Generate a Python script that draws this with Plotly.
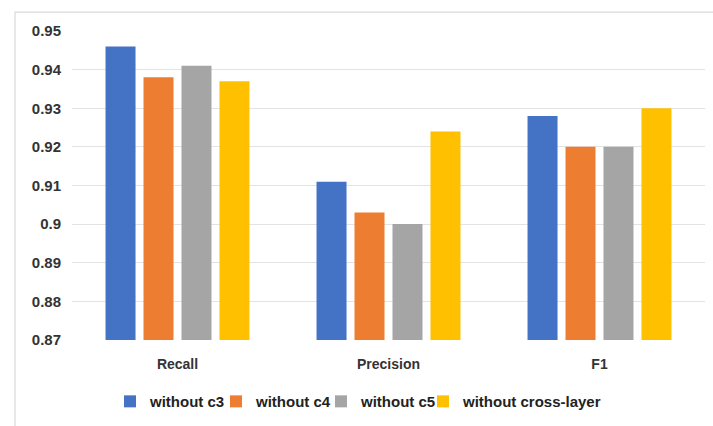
import plotly.graph_objects as go

categories = ["Recall", "Precision", "F1"]
series_names = ["without c3", "without c4", "without c5", "without cross-layer"]
without_c3 = [0.946, 0.911, 0.928]
without_c4 = [0.938, 0.903, 0.920]
without_c5 = [0.941, 0.900, 0.920]
without_cross_layer = [0.937, 0.924, 0.930]
y_ticks = [0.87, 0.88, 0.89, 0.90, 0.91, 0.92, 0.93, 0.94, 0.95]
y_tick_text = ["0.87", "0.88", "0.89", "0.9", "0.91", "0.92", "0.93", "0.94", "0.95"]

colors = ["#4472C4", "#ED7D31", "#A5A5A5", "#FFC000"]
values = [without_c3, without_c4, without_c5, without_cross_layer]

W, H = 713, 426
ml, mr, mt, mb = 72, 8, 31, 84

# one legend box per series so the entries can sit close together
legend_ids = ["legend", "legend2", "legend3", "legend4"]
legend_left_px = [110, 216, 321, 423]

fig = go.Figure()
for name, vals, col, lg in zip(series_names, values, colors, legend_ids):
    fig.add_trace(go.Bar(
        x=categories, y=vals, name=name, legend=lg,
        marker=dict(color=col, line=dict(width=0)),
    ))

pw = W - ml - mr
ph = H - mt - mb

def px_x(p):
    return (p - ml) / pw

def px_y(p):
    return (H - mb - p) / ph

# light outer frame (top and left edges visible)
fig.add_shape(type="rect", xref="paper", yref="paper",
              x0=px_x(15), x1=px_x(730), y0=px_y(440), y1=px_y(12),
              line=dict(color="#D9D9D9", width=1.2), fillcolor="rgba(0,0,0,0)",
              layer="below")

legend_font = dict(size=15, color="#222222", weight="bold")
legends = {}
for lg, lx in zip(legend_ids, legend_left_px):
    legends[lg] = dict(orientation="h", x=px_x(lx), xanchor="left",
                       y=px_y(404), yanchor="middle", font=legend_font,
                       itemwidth=30, tracegroupgap=0,
                       bgcolor="rgba(0,0,0,0)")

fig.update_layout(
    width=W, height=H,
    margin=dict(l=ml, r=mr, t=mt, b=mb),
    paper_bgcolor="white", plot_bgcolor="white",
    barmode="group", bargap=0.28, bargroupgap=0.21,
    font=dict(family="Liberation Sans, Arial, sans-serif", color="#404040"),
    xaxis=dict(showgrid=False, showline=False, ticks="",
               tickfont=dict(size=14, color="#333333", weight="bold"),
               ticklabelstandoff=14),
    yaxis=dict(range=[0.87, 0.95], tickvals=y_ticks, ticktext=y_tick_text,
               showgrid=True, gridcolor="#E3E3E3", gridwidth=1.2,
               zeroline=False, showline=False, ticks="",
               tickfont=dict(size=15, color="#333333", weight="bold"),
               ticklabelstandoff=10),
    showlegend=True,
    **legends,
)

fig.write_html("out.html")
